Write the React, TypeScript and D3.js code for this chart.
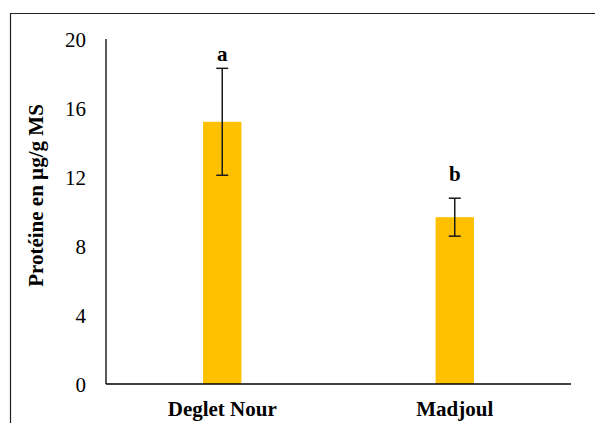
import React from "react";
import * as d3 from "d3";

const categories = ["Deglet Nour", "Madjoul"];
const means = [15.2, 9.67];
const errors = [3.1, 1.1];
const letters = ["a", "b"];
const letterValues = [18.75, 11.77];
const yTicks = [0, 4, 8, 12, 16, 20];
const yLabel = "Protéine en µg/g MS";

export default function App() {
  const W = 595, H = 423;
  const left = 106, right = 571, top = 39, bottom = 384;
  const x = d3.scaleBand<string>().domain(categories).range([left, right]).paddingInner(0).paddingOuter(0);
  const y = d3.scaleLinear().domain([0, 20]).range([bottom, top]);
  const barW = x.bandwidth() * 0.165;
  const font = "'Liberation Serif', 'Times New Roman', serif";
  return (
    <svg width={W} height={H} style={{ position: "absolute", left: 0, top: 0, display: "block" }} fontFamily={font}>
      <rect x={0} y={0} width={W} height={H} fill="#fff" />
      <path d={`M10.5,${H} V13.5 H${W}`} fill="none" stroke="#222" strokeWidth={1.2} />
      {categories.map((c, i) => {
        const cx = x(c)! + x.bandwidth() / 2;
        return (
          <g key={c}>
            <rect x={cx - barW / 2} y={y(means[i])} width={barW} height={bottom - y(means[i])} fill="#FFC000" />
            <line x1={cx} x2={cx} y1={y(means[i] + errors[i])} y2={y(means[i] - errors[i])} stroke="#1a1a1a" strokeWidth={1.5} />
            <line x1={cx - 6} x2={cx + 6} y1={y(means[i] + errors[i])} y2={y(means[i] + errors[i])} stroke="#1a1a1a" strokeWidth={1.5} />
            <line x1={cx - 6} x2={cx + 6} y1={y(means[i] - errors[i])} y2={y(means[i] - errors[i])} stroke="#1a1a1a" strokeWidth={1.5} />
            <text x={cx} y={y(letterValues[i])} textAnchor="middle" fontSize={21} fontWeight="bold" fill="#000">{letters[i]}</text>
            <text x={cx} y={416} textAnchor="middle" fontSize={21} fontWeight="bold" fill="#000">{c}</text>
          </g>
        );
      })}
      <line x1={left} x2={left} y1={top} y2={bottom} stroke="#000" strokeWidth={1.3} />
      <line x1={left} x2={right} y1={bottom} y2={bottom} stroke="#000" strokeWidth={1.3} />
      {yTicks.map((t) => (
        <text key={t} x={86} y={y(t) + 7.5} textAnchor="end" fontSize={21} fill="#000">{t}</text>
      ))}
      <text transform={`translate(43,195.5) rotate(-90)`} textAnchor="middle" fontSize={21} fontWeight="bold" fill="#000">{yLabel}</text>
    </svg>
  );
}
